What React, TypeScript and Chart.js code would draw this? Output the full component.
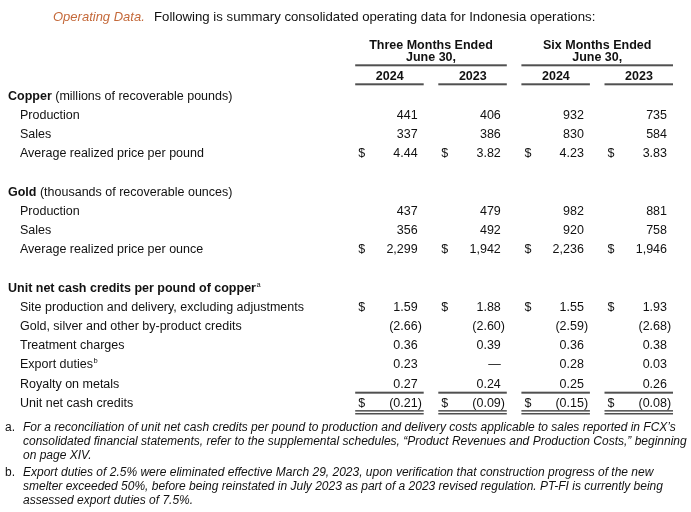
import React, { useEffect, useRef } from 'react';
import { Chart, registerables } from 'chart.js';

Chart.register(...registerables);

// ---------- text ----------
const TITLE_LEAD = 'Operating Data.';
const TITLE_TEXT = 'Following is summary consolidated operating data for Indonesia operations:';
const PERIOD_LABELS = ['Three Months Ended', 'Six Months Ended'];
const PERIOD_SUBLABEL = 'June 30,';
const YEAR_LABELS = ['2024', '2023', '2024', '2023'];

const COPPER_HEAD = 'Copper';
const COPPER_UNIT = ' (millions of recoverable pounds)';
const COPPER_ROWS = ['Production', 'Sales', 'Average realized price per pound'];

const GOLD_HEAD = 'Gold';
const GOLD_UNIT = ' (thousands of recoverable ounces)';
const GOLD_ROWS = ['Production', 'Sales', 'Average realized price per ounce'];

const UNIT_HEAD = 'Unit net cash credits per pound of copper';
const UNIT_HEAD_NOTE = 'a';
const UNIT_ROWS = [
  'Site production and delivery, excluding adjustments',
  'Gold, silver and other by-product credits',
  'Treatment charges',
  'Export duties',
  'Royalty on metals',
  'Unit net cash credits',
];
const UNIT_ROW_NOTES = ['', '', '', 'b', '', ''];

// ---------- values (3M 2024, 3M 2023, 6M 2024, 6M 2023) ----------
const COPPER_3M_2024 = [441, 337, 4.44];
const COPPER_3M_2023 = [406, 386, 3.82];
const COPPER_6M_2024 = [932, 830, 4.23];
const COPPER_6M_2023 = [735, 584, 3.83];

const GOLD_3M_2024 = [437, 356, 2299];
const GOLD_3M_2023 = [479, 492, 1942];
const GOLD_6M_2024 = [982, 920, 2236];
const GOLD_6M_2023 = [881, 758, 1946];

const UNIT_3M_2024 = [1.59, -2.66, 0.36, 0.23, 0.27, -0.21];
const UNIT_3M_2023 = [1.88, -2.6, 0.39, null, 0.24, -0.09];
const UNIT_6M_2024 = [1.55, -2.59, 0.36, 0.28, 0.25, -0.15];
const UNIT_6M_2023 = [1.93, -2.68, 0.38, 0.03, 0.26, -0.08];

// ---------- footnotes ----------
const FOOTNOTE_MARKS = ['a.', 'b.'];
const FOOTNOTE_A = [
  'For a reconciliation of unit net cash credits per pound to production and delivery costs applicable to sales reported in FCX\u2019s',
  'consolidated financial statements, refer to the supplemental schedules, \u201cProduct Revenues and Production Costs,\u201d beginning',
  'on page XIV.',
];
const FOOTNOTE_B = [
  'Export duties of 2.5% were eliminated effective March 29, 2023, upon verification that construction progress of the new',
  'smelter exceeded 50%, before being reinstated in July 2023 as part of a 2023 revised regulation. PT-FI is currently being',
  'assessed export duties of 7.5%.',
];

// ---------- row model ----------
type Row = {
  kind: 'head' | 'item' | 'blank';
  label?: string;
  unit?: string;
  note?: string;
  values?: (number | null)[];
  decimals?: number;
  dollar?: boolean;
  total?: boolean;
};

const ROWS: Row[] = [
  { kind: 'head', label: COPPER_HEAD, unit: COPPER_UNIT },
  ...COPPER_ROWS.map((label, i) => ({
    kind: 'item' as const,
    label,
    values: [COPPER_3M_2024[i], COPPER_3M_2023[i], COPPER_6M_2024[i], COPPER_6M_2023[i]],
    decimals: i === 2 ? 2 : 0,
    dollar: i === 2,
  })),
  { kind: 'blank' },
  { kind: 'head', label: GOLD_HEAD, unit: GOLD_UNIT },
  ...GOLD_ROWS.map((label, i) => ({
    kind: 'item' as const,
    label,
    values: [GOLD_3M_2024[i], GOLD_3M_2023[i], GOLD_6M_2024[i], GOLD_6M_2023[i]],
    decimals: 0,
    dollar: i === 2,
  })),
  { kind: 'blank' },
  { kind: 'head', label: UNIT_HEAD, note: UNIT_HEAD_NOTE },
  ...UNIT_ROWS.map((label, i) => ({
    kind: 'item' as const,
    label,
    note: UNIT_ROW_NOTES[i],
    values: [UNIT_3M_2024[i], UNIT_3M_2023[i], UNIT_6M_2024[i], UNIT_6M_2023[i]],
    decimals: 2,
    dollar: i === 0 || i === UNIT_ROWS.length - 1,
    total: i === UNIT_ROWS.length - 1,
  })),
];

// ---------- styles ----------
const FAMILY = '"Liberation Sans", Arial, sans-serif';
const FS = 12.5;
const F_REG = `${FS}px ${FAMILY}`;
const F_BOLD = `bold ${FS}px ${FAMILY}`;
const F_TITLE_LEAD = `italic 13px ${FAMILY}`;
const F_TITLE = `13.2px ${FAMILY}`;
const F_NOTE = `italic 12px ${FAMILY}`;
const F_NOTE_MARK = `12px ${FAMILY}`;
const F_SUP = `7.5px ${FAMILY}`;
const TEXT = '#111111';
const ORANGE = '#C4693A';
const RULE = '#505050';

const fmt = (v: number, decimals: number) =>
  Math.abs(v).toLocaleString('en-US', { minimumFractionDigits: decimals, maximumFractionDigits: decimals });

const tablePlugin = {
  id: 'tablePlugin',
  afterDraw(chart: any) {
    const ctx: CanvasRenderingContext2D = chart.ctx;
    const xs = chart.scales.x;
    const ys = chart.scales.y;
    const top = chart.chartArea.top;
    const anchors = [1, 2, 3, 4].map((v) => xs.getPixelForValue(v));
    const LINE_L = -62.5;
    const LINE_R = 6;
    const DOLLAR_DX = -59.5;
    const YEAR_DX = -28;
    const BASE = 4.5;

    ctx.save();
    ctx.textBaseline = 'alphabetic';

    const text = (s: string, x: number, y: number, font: string, color = TEXT, align: CanvasTextAlign = 'left') => {
      ctx.font = font;
      ctx.fillStyle = color;
      ctx.textAlign = align;
      ctx.fillText(s, x, y);
      ctx.textAlign = 'left';
      ctx.font = font;
      return ctx.measureText(s).width;
    };

    // title
    text(TITLE_LEAD, 53, 20.7, F_TITLE_LEAD, ORANGE);
    text(TITLE_TEXT, 154, 20.7, F_TITLE);

    // column headers
    for (let p = 0; p < 2; p++) {
      const l = anchors[p * 2] + LINE_L;
      const r = anchors[p * 2 + 1] + LINE_R;
      const c = (l + r) / 2;
      text(PERIOD_LABELS[p], c, top - 36, F_BOLD, TEXT, 'center');
      text(PERIOD_SUBLABEL, c, top - 24.5, F_BOLD, TEXT, 'center');
      ctx.fillStyle = RULE;
      ctx.fillRect(l, top - 20.9, r - l, 2);
    }
    for (let c = 0; c < 4; c++) {
      text(YEAR_LABELS[c], anchors[c] + YEAR_DX, top - 5, F_BOLD, TEXT, 'center');
      ctx.fillStyle = RULE;
      ctx.fillRect(anchors[c] + LINE_L, top - 1.9, LINE_R - LINE_L, 2);
    }

    // row labels
    ROWS.forEach((row, i) => {
      if (row.kind === 'blank') return;
      const y = ys.getPixelForValue(i) + BASE;
      if (row.kind === 'head') {
        const yy = y + 1;
        const w = text(row.label!, 8, yy, F_BOLD);
        if (row.unit) text(row.unit, 8 + w, yy, F_REG);
        if (row.note) text(row.note, 8 + w + 0.5, yy - 5, F_SUP);
      } else {
        const w = text(row.label!, 20, y, F_REG);
        if (row.note) text(row.note, 20 + w + 0.5, y - 5, F_SUP);
      }
    });

    // cells from dataset elements
    chart.data.datasets.forEach((ds: any, c: number) => {
      const meta = chart.getDatasetMeta(c);
      meta.data.forEach((el: any, k: number) => {
        const d = ds.data[k];
        const row: Row = ROWS[d.y];
        const x = el.x;
        const y = el.y + BASE;
        if (d.v === null) {
          text('\u2014', x, y, F_REG, TEXT, 'right');
        } else if (d.v < 0) {
          text('(' + fmt(d.v, row.decimals!), x, y, F_REG, TEXT, 'right');
          text(')', x, y, F_REG);
        } else {
          text(fmt(d.v, row.decimals!), x, y, F_REG, TEXT, 'right');
        }
        if (row.dollar) text('$', x + DOLLAR_DX, y, F_REG);
        if (row.total) {
          const l = x + LINE_L;
          const w = LINE_R - LINE_L;
          const pitch = Math.abs(ys.getPixelForValue(1) - ys.getPixelForValue(0));
          const cy = el.y;
          ctx.fillStyle = RULE;
          ctx.fillRect(l, cy - pitch / 2 - 1, w, 2);
          ctx.fillRect(l, cy + 7.8, w, 1.5);
          ctx.fillRect(l, cy + 10.7, w, 1.5);
        }
      });
    });

    // footnotes
    const notes = [FOOTNOTE_A, FOOTNOTE_B];
    const starts = [431, 476];
    notes.forEach((lines, n) => {
      text(FOOTNOTE_MARKS[n], 5, starts[n], F_NOTE_MARK);
      lines.forEach((line, j) => text(line, 23, starts[n] + j * 14.2, F_NOTE));
    });

    ctx.restore();
  },
};

export default function App() {
  const ref = useRef<HTMLCanvasElement | null>(null);

  useEffect(() => {
    document.body.style.margin = '0';
    const canvas = ref.current;
    if (!canvas) return;
    const datasets = YEAR_LABELS.map((year, c) => ({
      label: (c < 2 ? PERIOD_LABELS[0] : PERIOD_LABELS[1]) + ' ' + year,
      data: ROWS.map((row, i) => (row.values ? { x: c + 1, y: i, v: row.values[c] } : null)).filter(Boolean) as any[],
      pointRadius: 0,
      pointHoverRadius: 0,
      showLine: false,
    }));
    const chart = new Chart(canvas, {
      type: 'scatter',
      data: { datasets },
      options: {
        animation: false,
        responsive: false,
        devicePixelRatio: 1,
        events: [],
        layout: { padding: { left: 417.7, right: 24, top: 85.2, bottom: 100.1 } },
        scales: {
          x: { type: 'linear', min: 1, max: 4, display: false },
          y: { type: 'linear', min: -0.5, max: ROWS.length - 0.5, reverse: true, display: false },
        },
        plugins: { legend: { display: false }, tooltip: { enabled: false }, title: { display: false } },
      },
      plugins: [tablePlugin],
    } as any);
    return () => chart.destroy();
  }, []);

  return (
    <div style={{ width: 691, height: 512, background: '#ffffff' }}>
      <canvas ref={ref} width={691} height={512} style={{ display: 'block', width: 691, height: 512 }} />
    </div>
  );
}
